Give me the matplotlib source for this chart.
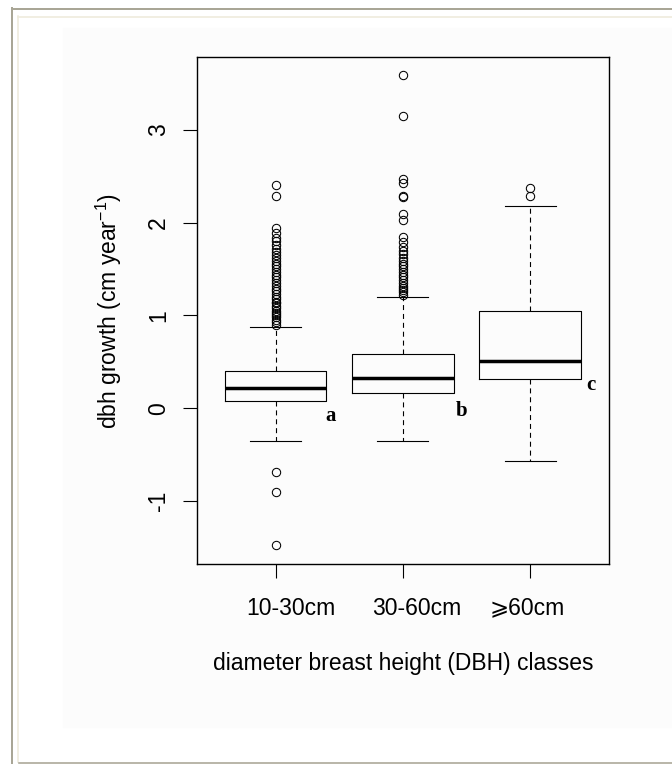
import matplotlib.pyplot as plt
import matplotlib
from matplotlib.patches import Rectangle
from matplotlib.lines import Line2D
from matplotlib.transforms import ScaledTranslation

matplotlib.rcParams['font.family'] = ['Liberation Sans', 'DejaVu Sans']
matplotlib.rcParams['mathtext.fontset'] = 'custom'
matplotlib.rcParams['mathtext.rm'] = 'Liberation Sans'
matplotlib.rcParams['mathtext.it'] = 'Liberation Sans:italic'
fontsize1 = 16.5
lw = 0.8

# box statistics
classes = ['10-30cm', '30-60cm', '\u2a7e60cm']
medians = [0.22, 0.33, 0.51]
q1 = [0.08, 0.16, 0.31]
q3 = [0.40, 0.59, 1.05]
whis_lo = [-0.35, -0.35, -0.57]
whis_hi = [0.88, 1.20, 2.18]
fliers_1 = [-1.47, -0.90, -0.69,
            0.90, 0.93, 0.95, 0.98, 1.00, 1.03, 1.05, 1.08, 1.10, 1.13, 1.15,
            1.18, 1.20, 1.23, 1.26, 1.29, 1.32, 1.35, 1.38, 1.41, 1.44, 1.47,
            1.50, 1.53, 1.56, 1.59, 1.62, 1.65, 1.68, 1.72, 1.76, 1.80, 1.84,
            1.89, 1.94, 2.29, 2.41]
fliers_2 = [1.22, 1.25, 1.27, 1.30, 1.32, 1.35, 1.38, 1.41, 1.44, 1.47, 1.50,
            1.53, 1.56, 1.59, 1.62, 1.66, 1.70, 1.74, 1.79, 1.85, 2.03, 2.09,
            2.28, 2.29, 2.43, 2.47, 3.15, 3.59]
fliers_3 = [2.29, 2.37]
letters = ['a', 'b', 'c']
letter_x = [1.43, 2.46, 3.48]
letter_y = [-0.14, -0.086, 0.20]

W, H = 672, 764
fig = plt.figure(figsize=(W/100, H/100), dpi=100)
fig.patch.set_facecolor('white')

# light panel and window frame of the original screenshot
def fx(x): return x/W
def fy(y): return 1 - y/H
fig.add_artist(Rectangle((fx(63), fy(727)), fx(W) - fx(63), fy(28) - fy(727),
                         transform=fig.transFigure, color='#fcfcfc', zorder=-5))
for (x0, y0, x1, y1, c, w) in [(12, 8, 12, 764, '#a9a696', 2.0),
                               (12, 9, W, 9, '#a9a696', 2.0),
                               (18, 16, 18, 762, '#eeebdc', 1.6),
                               (18, 16.5, W, 16.5, '#eeebdc', 1.6),
                               (19, 763, W, 763, '#a9a696', 1.6)]:
    fig.add_artist(Line2D([fx(x0), fx(x1)], [fy(y0), fy(y1)], color=c,
                          linewidth=w*0.72, transform=fig.transFigure))

ax = fig.add_axes([fx(196.7), fy(564), fx(609) - fx(196.7), fy(57.3) - fy(564)])
ax.set_facecolor('none')

fliers = [fliers_1, fliers_2, fliers_3]
stats = []
for i in range(len(classes)):
    stats.append(dict(med=medians[i], q1=q1[i], q3=q3[i], whislo=whis_lo[i],
                      whishi=whis_hi[i], fliers=fliers[i]))

ax.bxp(stats, positions=[1, 2, 3], widths=0.8, capwidths=0.4,
       boxprops=dict(color='black', linewidth=lw),
       medianprops=dict(color='black', linewidth=2.5, solid_capstyle='butt'),
       whiskerprops=dict(color='black', linewidth=lw, linestyle=(0, (4.5, 3.5))),
       capprops=dict(color='black', linewidth=lw),
       flierprops=dict(marker='o', markerfacecolor='none', markeredgecolor='black',
                       markersize=6, markeredgewidth=0.75))

for i, t in enumerate(letters):
    ax.text(letter_x[i], letter_y[i], t, ha='center', va='baseline',
            fontsize=15, fontweight='bold', family='Liberation Serif')

ax.set_xlim(0.38, 3.62)
ax.set_ylim(-1.679, 3.783)
ax.set_xticks([1, 2, 3])
ax.set_xticklabels(classes)
ax.set_yticks([-1, 0, 1, 2, 3])
ax.set_yticklabels(['-1', '0', '1', '2', '3'], rotation=90, va='center')
ax.tick_params(axis='both', length=10, width=lw, labelsize=fontsize1)
ax.tick_params(axis='x', pad=13.5)
ax.tick_params(axis='y', pad=9)
for s in ax.spines.values():
    s.set_linewidth(1.0)

# the original labels sit a little off their ticks
for lab, dx in zip(ax.get_xticklabels(), [0.15, 0.14, -0.03]):
    lab.set_transform(lab.get_transform() + ScaledTranslation(dx, 0, fig.dpi_scale_trans))

ax.set_xlabel('diameter breast height (DBH) classes', fontsize=fontsize1, labelpad=23)
ax.set_ylabel('dbh growth (cm year$^{-1}$)', fontsize=fontsize1, labelpad=16.5)

plt.savefig('out.png', dpi=100)
